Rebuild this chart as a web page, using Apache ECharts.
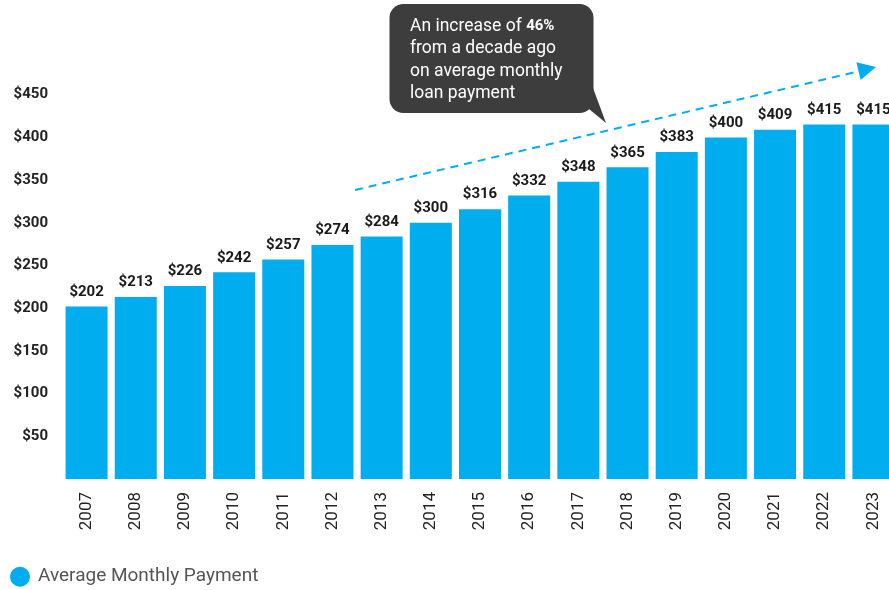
<!DOCTYPE html>
<html>
<head>
<meta charset="utf-8">
<script src="https://cdn.jsdelivr.net/npm/echarts@6/dist/echarts.min.js"></script>
<style>
  html, body { margin: 0; padding: 0; background: #fff; overflow: hidden; }
  /* the plot runs slightly past the right edge of the window, so the canvas is a bit wider */
  #chart { width: 900px; height: 590px; }
</style>
</head>
<body>
<div id="chart"></div>
<script>
// Average monthly student loan payment by year
var years = ['2007','2008','2009','2010','2011','2012','2013','2014','2015','2016','2017','2018','2019','2020','2021','2022','2023'];
var payments = [202, 213, 226, 242, 257, 274, 284, 300, 316, 332, 348, 365, 383, 400, 409, 415, 415];
var yTicks = [50, 100, 150, 200, 250, 300, 350, 400, 450];
var seriesName = 'Average Monthly Payment';
var calloutLines = ['An increase of {pct|46%}', 'from a decade ago', 'on average monthly', 'loan payment'];

var BLUE = '#00aeef';
var chart = echarts.init(document.getElementById('chart'));

chart.setOption({
  animation: false,
  grid: { left: 62, top: 52, width: 836, height: 427, containLabel: false },
  legend: {
    left: 10, top: 566.7, padding: 0,
    icon: 'circle', itemWidth: 20, itemHeight: 20, itemGap: 8,
    textStyle: { color: '#555', fontSize: 19, fontFamily: 'Roboto', padding: [0, 0, 0, 3] },
    data: [seriesName]
  },
  xAxis: {
    type: 'category',
    data: years,
    axisLine: { show: false },
    axisTick: { show: false },
    axisLabel: { rotate: 90, margin: 13, color: '#222', fontSize: 17, fontFamily: 'Roboto' }
  },
  yAxis: {
    type: 'value', min: 0, max: 500, interval: 50,
    splitLine: { show: false },
    axisLine: { show: false },
    axisTick: { show: false },
    axisLabel: {
      margin: 14, color: '#222', fontSize: 15, fontWeight: 'bold', fontFamily: 'Roboto',
      padding: [6, 0, 0, 0],
      formatter: function (v) { return yTicks.indexOf(v) >= 0 ? '$' + v : ''; }
    }
  },
  series: [{
    name: seriesName,
    type: 'bar',
    data: payments,
    barCategoryGap: '14.6%',
    itemStyle: { color: BLUE },
    label: {
      show: true, position: 'top', distance: 7,
      color: '#1a1a1a', fontSize: 15, fontWeight: 'bold', fontFamily: 'Roboto',
      formatter: function (p) { return '$' + p.value; }
    }
  }],
  graphic: [
    // dashed trend arrow
    {
      type: 'line', silent: true,
      shape: { x1: 355, y1: 190, x2: 860, y2: 71 },
      style: { stroke: BLUE, lineWidth: 2, lineDash: [8, 6] }
    },
    {
      type: 'polygon', silent: true,
      shape: { points: [[876, 67], [860.6, 80], [856.4, 62.3]] },
      style: { fill: BLUE }
    },
    // speech bubble
    {
      type: 'rect', silent: true,
      shape: { x: 389.5, y: 4, width: 204, height: 109, r: 14 },
      style: { fill: '#3d3d3d' }
    },
    {
      type: 'polygon', silent: true,
      shape: { points: [[578, 100], [593, 88], [606, 123]] },
      style: { fill: '#3d3d3d' }
    },
    {
      type: 'text', silent: true,
      left: 410, top: 15,
      style: {
        text: calloutLines.join('\n'),
        fill: '#fff', fontSize: 17.5, lineHeight: 22.5, fontFamily: 'Roboto',
        rich: {
          pct: { fill: '#fff', fontSize: 15, fontWeight: 'bold', fontFamily: 'Roboto', lineHeight: 22.5 }
        }
      }
    }
  ]
});
</script>
</body>
</html>
